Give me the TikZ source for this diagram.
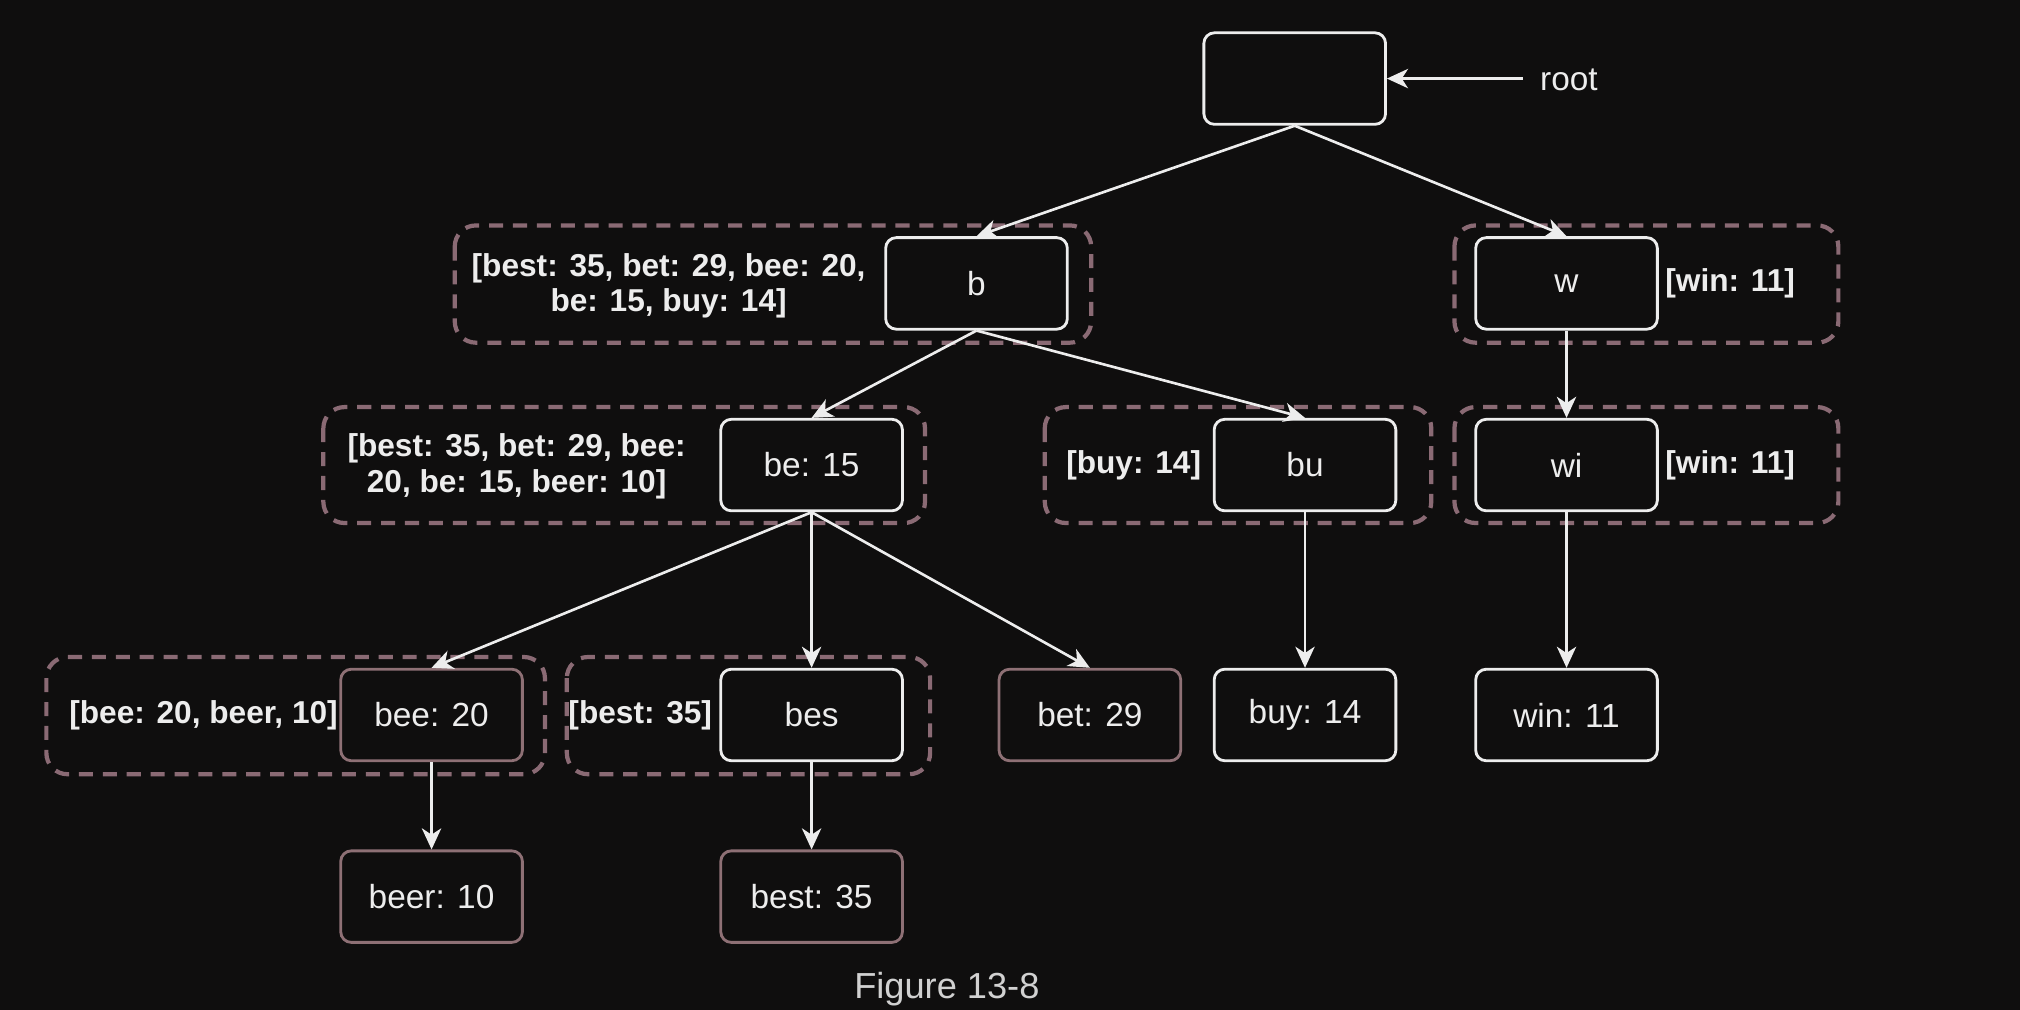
\documentclass[tikz,border=0pt]{standalone}
\usepackage{fontspec}
\setmainfont{Liberation Sans}
\usetikzlibrary{arrows.meta}
\definecolor{bg}{HTML}{0F0E0E}
\definecolor{dashc}{HTML}{8A6A74}
\definecolor{leafc}{HTML}{8E7075}
\definecolor{txt}{HTML}{EDEDED}
\begin{document}
\begin{tikzpicture}[x=0.012883cm,y=-0.012883cm,
 box/.style={draw=txt, fill=bg, rounded corners=3pt, minimum width=1.816cm, minimum height=0.915cm, line width=0.8pt, text=txt, font=\fontsize{9.5}{11}\selectfont, inner sep=0pt},
 leaf/.style={box, draw=leafc},
 lbl/.style={text=txt, font=\fontsize{9}{10.1}\selectfont\bfseries, align=center, inner sep=0pt},
 group/.style={draw=dashc, line width=1.2pt, dash pattern=on 4pt off 2.8pt, rounded corners=6pt},
 edge/.style={draw=txt, line width=0.75pt, -{Stealth[length=6pt,width=5.5pt,inset=1.8pt]}}]
\fill[bg] (0,0) rectangle (1568,784);
\useasboundingbox (0,0) rectangle (1568,784);
% dashed groups
\draw[group] (353,175) rectangle (847,266);
\draw[group] (1129,175) rectangle (1427,266);
\draw[group] (251,316) rectangle (718,406);
\draw[group] (811,316) rectangle (1111,406);
\draw[group] (1129,316) rectangle (1427,406);
\draw[group] (36,510) rectangle (423,601);
\draw[group] (440,510) rectangle (722,601);
% nodes
\node[box] (root) at (1005,61) {};
\node[text=txt, font=\fontsize{9.5}{11}\selectfont, anchor=west, inner sep=0pt] (rootL) at (1195,62) {root};
\coordinate (rootA) at (1182,61);
\node[box] (b) at (758,220) {b};
\node[lbl] (bL) at (519,222) {[best: 35, bet: 29, bee: 20,\\be: 15, buy: 14]};
\node[box] (w) at (1216,220) {w};
\node[lbl] (wL) at (1343,220) {[win: 11]};
\node[box] (be) at (630,361) {be: 15};
\node[lbl] (beL) at (401,362) {[best: 35, bet: 29, bee:\\20, be: 15, beer: 10]};
\node[box] (bu) at (1013,361) {bu};
\node[lbl] (buL) at (880,361) {[buy: 14]};
\node[box] (wi) at (1216,361) {wi};
\node[lbl] (wiL) at (1343,361) {[win: 11]};
\node[leaf] (bee) at (335,555) {bee: 20};
\node[lbl] (beeL) at (158,555) {[bee: 20, beer, 10]};
\node[box] (bes) at (630,555) {bes};
\node[lbl] (besL) at (497,555) {[best: 35]};
\node[leaf] (bet) at (846,555) {bet: 29};
\node[box] (buy) at (1013,555) {buy: 14};
\node[box] (win) at (1216,555) {win: 11};
\node[leaf] (beer) at (335,696) {beer: 10};
\node[leaf] (best) at (630,696) {best: 35};
\node[text=txt!88!black, font=\fontsize{10.3}{12}\selectfont] (fig) at (735,768) {Figure 13-8};
% edges
\draw[edge] (rootA) -- (root.east);
\draw[edge] (root.south) -- (b.north);
\draw[edge] (root.south) -- (w.north);
\draw[edge] (b.south) -- (be.north);
\draw[edge] (b.south) -- (bu.north);
\draw[edge] (w.south) -- (wi.north);
\draw[edge] (be.south) -- (bee.north);
\draw[edge] (be.south) -- (bes.north);
\draw[edge] (be.south) -- (bet.north);
\draw[edge] (bu.south) -- (buy.north);
\draw[edge] (wi.south) -- (win.north);
\draw[edge] (bee.south) -- (beer.north);
\draw[edge] (bes.south) -- (best.north);
\end{tikzpicture}
\end{document}
